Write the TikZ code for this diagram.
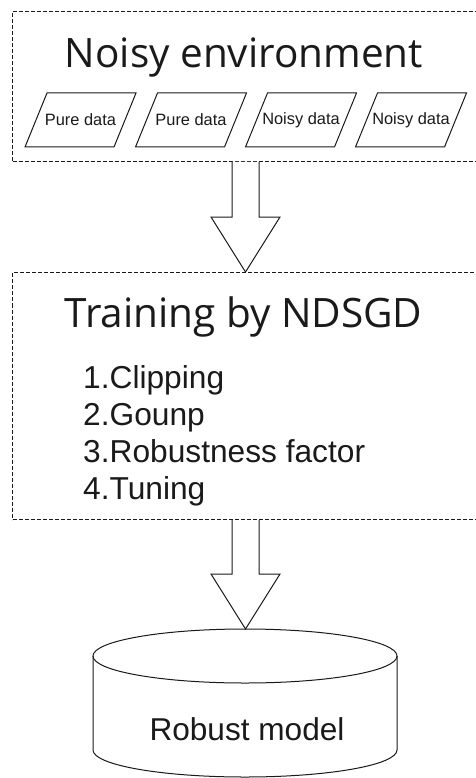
\documentclass[tikz,border=0pt]{standalone}
\usepackage{fontspec}
\usepackage{tikz}
\usetikzlibrary{arrows.meta,calc,positioning}
\usepackage{xcolor}
\newfontfamily\headfont{Open Sans}
\newfontfamily\plainfont{Liberation Sans}
\definecolor{ink}{HTML}{1A1A1A}
\tikzset{groupbox/.style={draw=ink,dash pattern=on 4pt off 2pt,line width=1pt,inner sep=0pt,anchor=north west}, datatext/.style={inner sep=0pt,font=\plainfont\fontsize{16.4}{19}\selectfont,text=ink}, dataline/.style={draw=ink,line width=1pt,line join=miter}, headline/.style={anchor=base,inner sep=0pt,font=\headfont\fontsize{40.5}{46}\selectfont,text=ink}, listline/.style={anchor=base west,inner sep=0pt,font=\plainfont\fontsize{31.7}{37}\selectfont,text=ink}, bigarrow/.style={draw=ink,line width=1pt,fill=white,line join=miter}, canline/.style={draw=ink,line width=1pt}, canlabel/.style={anchor=base,inner sep=0pt,font=\plainfont\fontsize{31.6}{37}\selectfont,text=ink}}
% slanted data card round a named label
\newcommand{\datacard}[3]{\node[datatext] (#1) at (#2,120) {#3};
  \draw[dataline] ($(#1.center)+(-55.5,27)$) -- ($(#1.center)+(33.5,27)$) -- ($(#1.center)+(55.5,-27)$) -- ($(#1.center)+(-33.5,-27)$) -- cycle;}
% hollow down arrow: shaft from #1, tip at #2
\newcommand{\blockarrow}[2]{\draw[bigarrow] ($(#1)+(-13.5,0)$) -- ($(#2)+(-13.5,-55)$) -- ($(#2)+(-34.5,-55)$) -- (#2) -- ($(#2)+(34.5,-55)$) -- ($(#2)+(13.5,-55)$) -- ($(#1)+(13.5,0)$);}

\begin{document}
\begin{tikzpicture}[x=1pt,y=-1pt]
\useasboundingbox (0,0) rectangle (475,778);
\fill[white] (0,0) rectangle (475,778);
% input side
\node[groupbox,minimum width=470pt,minimum height=150pt] (env) at (12,11) {};
\node[headline] (envtitle) at (244,68) {Noisy environment};
\datacard{pure1}{80.5}{Pure data}
\datacard{pure2}{191}{Pure data}
\datacard{noisy1}{301}{Noisy data}
\datacard{noisy2}{411}{Noisy data}
% training block
\node[groupbox,minimum width=470pt,minimum height=247pt] (train) at (12,272) {};
\node[headline] (traintitle) at (243.5,327) {Training by NDSGD};
\node[listline] (item1) at (83,388) {1.Clipping};
\node[listline] (item2) at (83,425) {2.Gounp};
\node[listline] (item3) at (83,462) {3.Robustness factor};
\node[listline] (item4) at (83,499) {4.Tuning};
% output: the model store
\node[canlabel] (model) at (247,740) {Robust model};
\draw[canline] (93,656) -- (93,750) arc[start angle=180,end angle=0,x radius=152,y radius=27] -- (397,656);
\draw[canline] (245,656) ellipse [x radius=152,y radius=27];
\coordinate (axis) at (245.5,0);
\coordinate (envout) at (env.south -| axis);
\coordinate (trainin) at (train.north -| axis);
\coordinate (trainout) at (train.south -| axis);
\coordinate (modelin) at (245.5,629);
\blockarrow{envout}{trainin}
\blockarrow{trainout}{modelin}
\end{tikzpicture}
\end{document}
